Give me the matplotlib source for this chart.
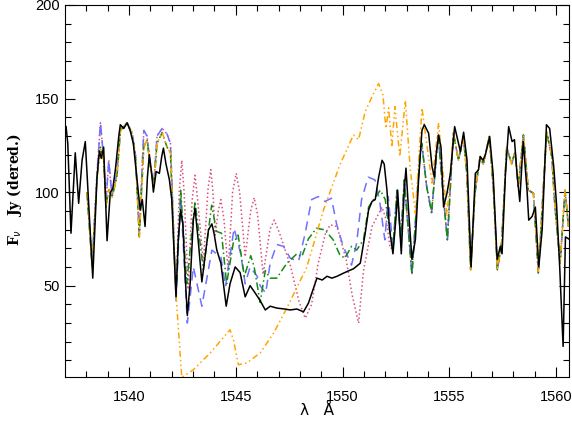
import numpy as np
import matplotlib
matplotlib.use('Agg')
import matplotlib.pyplot as plt

# --- datos ---

# espectro observado (negro)
obs_wl = [1537.05, 1537.13, 1537.28, 1537.48, 1537.64, 1537.80, 1537.95, 1538.08, 1538.30,
          1538.50, 1538.61, 1538.70, 1538.81, 1538.97, 1539.12, 1539.24, 1539.36, 1539.52,
          1539.59, 1539.75, 1539.91, 1540.05, 1540.20, 1540.36, 1540.52, 1540.62, 1540.75,
          1540.86, 1540.95, 1541.06, 1541.14, 1541.27, 1541.42, 1541.53, 1541.61, 1541.73,
          1541.89, 1542.00, 1542.11, 1542.20, 1542.31, 1542.42, 1542.52, 1542.63, 1542.73,
          1542.86, 1543.01, 1543.09, 1543.25, 1543.41, 1543.56, 1543.72, 1543.88, 1543.98,
          1544.11, 1544.30, 1544.55, 1544.73, 1544.97, 1545.20, 1545.44, 1545.67, 1545.91,
          1546.14, 1546.38, 1546.61, 1546.92, 1547.22, 1547.55, 1547.86, 1548.17, 1548.40,
          1548.80, 1549.05, 1549.27, 1549.50, 1549.74, 1550.05, 1550.30, 1550.51, 1550.83,
          1551.06, 1551.22, 1551.38, 1551.53, 1551.69, 1551.85, 1551.95, 1552.08, 1552.20,
          1552.36, 1552.52, 1552.58, 1552.66, 1552.75, 1552.89, 1552.97, 1553.09, 1553.25,
          1553.41, 1553.56, 1553.72, 1553.83, 1554.03, 1554.19, 1554.30, 1554.39, 1554.50,
          1554.61, 1554.73, 1554.89, 1555.05, 1555.25, 1555.39, 1555.52, 1555.67, 1555.83,
          1556.02, 1556.22, 1556.37, 1556.45, 1556.58, 1556.69, 1556.89, 1557.05, 1557.24,
          1557.39, 1557.47, 1557.63, 1557.78, 1557.94, 1558.05, 1558.17, 1558.30, 1558.46,
          1558.64, 1558.72, 1558.88, 1559.03, 1559.19, 1559.35, 1559.55, 1559.70, 1559.89,
          1560.02, 1560.17, 1560.33, 1560.44, 1560.59]
obs_flux = [135, 126, 78, 121, 94, 117, 127, 99.5, 54,
            108, 122, 118, 124, 74, 99.6, 102, 112, 130,
            136, 134, 137, 133, 126, 108, 90.5, 96, 81.6,
            108, 120, 110, 100, 111, 110, 119, 123.5, 115,
            106.5, 96, 67, 44, 76, 90.5, 83, 55, 34,
            51, 85, 91.4, 72.7, 52, 65.5, 79.8, 83, 78,
            69, 62, 39, 51, 60, 57, 44, 50, 46,
            42, 37, 39, 38, 37.6, 37, 37.5, 36, 40.6,
            54, 53, 55, 54, 55, 56.7, 58, 59, 62,
            78, 90.5, 95, 96, 108, 117, 115, 101, 80,
            67, 88.7, 101, 85, 67, 101, 112.8, 90.5, 64,
            74.5, 106.5, 133, 136, 131.5, 113.6, 108, 121, 130.5,
            124, 92, 99.4, 110, 135, 128, 121.6, 132, 117,
            60, 110, 112, 119, 117, 120, 129.7, 110, 64,
            71, 67, 110, 135, 127, 128, 110, 95, 127,
            101, 85, 87, 92, 60, 80, 136, 134, 113.6,
            94, 60, 17.5, 76, 75]

# ala izquierda comun de los modelos
left_wl = [1538.03, 1538.27, 1538.50, 1538.66, 1538.81, 1538.92, 1539.05, 1539.20, 1539.43,
           1539.60, 1539.90, 1540.14, 1540.30, 1540.48, 1540.69, 1540.84, 1541.00, 1541.16,
           1541.31, 1541.55, 1541.78, 1541.94, 1542.11]
left_green = [100, 60, 108, 124, 117, 92, 102, 97, 108,
              133, 137, 131, 119, 76, 124, 128, 113, 103,
              126, 131.8, 124, 121, 69]
left_blue = [100, 62, 110, 137, 118, 95, 117, 98, 110,
             134, 137, 132, 120, 78, 133, 130, 114, 104,
             130, 134, 131, 126, 72]

# ala derecha comun de los modelos
right_wl = [1552.36, 1552.55, 1552.73, 1552.89, 1553.25, 1553.62, 1553.71, 1553.94, 1554.17,
            1554.48, 1554.72, 1554.91, 1555.19, 1555.43, 1555.66, 1555.82, 1556.00, 1556.20,
            1556.44, 1556.59, 1556.87, 1557.06, 1557.25, 1557.45, 1557.69, 1557.92, 1558.08,
            1558.23, 1558.47, 1558.70, 1558.94, 1559.17, 1559.56, 1559.80, 1559.95, 1560.19,
            1560.42, 1560.58]
right_flux = [70, 101, 74.5, 106.5, 56, 119, 126, 103, 89,
              130.5, 97.6, 74.5, 131.5, 117, 129.7, 110, 58.4, 99.4,
              119, 115, 129.7, 103, 58.4, 72.7, 124, 115, 121.6,
              103, 130.5, 101, 99.4, 56.7, 132, 119, 92, 62,
              101, 81.6]

# zona central de cada modelo
green_wl = [1542.20, 1542.42, 1542.70, 1543.09, 1543.48, 1543.87, 1544.10, 1544.33, 1544.57,
            1544.88, 1545.11, 1545.40, 1545.70, 1545.86, 1546.14, 1546.38, 1546.61, 1546.92,
            1547.39, 1547.86, 1548.09, 1548.40, 1548.78, 1549.17, 1549.56, 1549.87, 1550.11,
            1550.42, 1550.66, 1550.98, 1551.22, 1551.45, 1551.77, 1552.00, 1552.16]
green_mid = [45, 101, 51, 95, 58.4, 93, 79, 78, 51,
             72.7, 77, 55, 66, 60, 41, 58, 54, 54,
             62, 67, 65.5, 75, 80.7, 79.8, 74.5, 66.5, 64.7,
             71, 69, 74.5, 92, 96, 101, 96, 83]

blue_wl = [1542.20, 1542.42, 1542.73, 1543.01, 1543.41, 1543.88, 1544.10, 1544.30, 1544.52,
           1544.92, 1545.23, 1545.44, 1545.67, 1546.00, 1546.14, 1546.40, 1546.61, 1546.92,
           1547.23, 1547.55, 1547.94, 1548.25, 1548.55, 1548.86, 1549.17, 1549.48, 1549.72,
           1550.03, 1550.42, 1550.66, 1550.89, 1551.20, 1551.52, 1551.75, 1551.98, 1552.14]
blue_mid = [42, 98, 30, 60, 39, 69, 67, 65.5, 49.5,
            80.7, 67, 51, 60, 55, 50, 46, 62, 72,
            71, 64.7, 63, 78, 96, 97.6, 95, 96.7, 83,
            71, 61, 72.7, 96, 108, 106.5, 94, 74.5, 97.6]

pink_wl = [1542.20, 1542.35, 1542.47, 1542.58, 1542.77, 1542.95, 1543.09, 1543.22, 1543.48,
           1543.70, 1543.83, 1543.93, 1544.03, 1544.18, 1544.30, 1544.45, 1544.64, 1544.85,
           1545.02, 1545.18, 1545.44, 1545.70, 1545.86, 1546.02, 1546.28, 1546.60, 1546.80,
           1547.05, 1547.55, 1547.95, 1548.25, 1548.55, 1548.86, 1549.20, 1549.42, 1549.74,
           1549.95, 1550.17, 1550.45, 1550.75, 1550.98, 1551.38, 1551.85, 1552.05, 1552.23]
pink_mid = [45, 100, 117, 100, 48, 95, 109, 95, 62,
            102, 112, 100, 77, 90, 96, 85, 58, 100,
            110, 100, 65.5, 90, 97, 88, 56, 80, 85,
            78, 61, 42, 32.6, 40, 62, 78, 82.5, 81.6,
            73, 63.8, 45, 30, 58, 81.6, 92, 85, 70]

orange_wl = [1542.20, 1542.47, 1543.01, 1543.80, 1544.73, 1544.89, 1545.12, 1545.52, 1546.14,
             1546.77, 1547.39, 1548.33, 1549.11, 1549.89, 1550.51, 1550.75, 1551.06, 1551.38,
             1551.69, 1551.89, 1552.03, 1552.16, 1552.31, 1552.45, 1552.68, 1552.94, 1553.16,
             1553.41, 1553.72, 1554.19, 1554.50, 1554.89]
orange_mid = [45, 1, 5, 14, 26.4, 21, 7.7, 8.7, 14,
              24.6, 38, 60, 90.5, 115, 130.5, 128, 143, 151,
              158, 152, 134, 145, 124, 145.7, 119, 149, 113.6,
              88.7, 145, 104.8, 137, 87]

# --- construir cada modelo: ala izq + centro + ala der ---
i_or = right_wl.index(1555.19)
green_x = left_wl + green_wl + right_wl
green_y = left_green + green_mid + right_flux
blue_x = left_wl + blue_wl + right_wl
blue_y = left_blue + blue_mid + right_flux
pink_x = left_wl + pink_wl + right_wl
pink_y = left_blue + pink_mid + right_flux
orange_x = left_wl + orange_wl + right_wl[i_or:]
orange_y = left_green + orange_mid + right_flux[i_or:]

fig = plt.figure(figsize=(5.72, 4.21), dpi=100)
ax = fig.add_axes([65 / 572, 1 - 377.3 / 421, (569.3 - 65) / 572, (377.3 - 5) / 421])

ax.plot(pink_x, pink_y, color='#d9507f', linestyle=':', linewidth=1.1)
ax.plot(blue_x, blue_y, color='#7070ff', linestyle=(0, (6, 4)), linewidth=1.1)
ax.plot(green_x, green_y, color='#138a13', linestyle=(0, (5, 2, 1, 2)), linewidth=1.1)
ax.plot(orange_x, orange_y, color='#ffa500', linestyle=(0, (4, 2, 1, 2, 1, 2)), linewidth=1.1)
ax.plot(obs_wl, obs_flux, color='black', linewidth=1.1)

ax.set_xlim(1537.0, 1560.62)
ax.set_ylim(1, 200)
ax.set_xticks([1540, 1545, 1550, 1555, 1560])
ax.set_xticks(np.arange(1538, 1561, 1), minor=True)
ax.set_yticks([50, 100, 150, 200])
ax.set_yticks(np.arange(10, 200, 10), minor=True)
ax.tick_params(which='both', direction='in', top=True, right=True, labelsize=10.5)
ax.tick_params(which='major', length=7, width=0.8)
ax.tick_params(which='minor', length=4, width=0.8)
for lab in ax.get_xticklabels() + ax.get_yticklabels():
    lab.set_fontfamily('Liberation Sans')
ax.tick_params(axis='x', pad=9)
ax.tick_params(axis='y', pad=4)

fig.text(15 / 572, 1 - 190 / 421, r'F$_\nu$   Jy (dered.)', rotation=90, ha='center', va='center',
         fontsize=10, fontfamily='DejaVu Serif', fontweight='bold')
fig.text(317 / 572, 1 - 410 / 421, 'λ   Å', ha='center', va='center', fontsize=11,
         fontfamily='DejaVu Sans')

fig.savefig('out.png', dpi=100)
